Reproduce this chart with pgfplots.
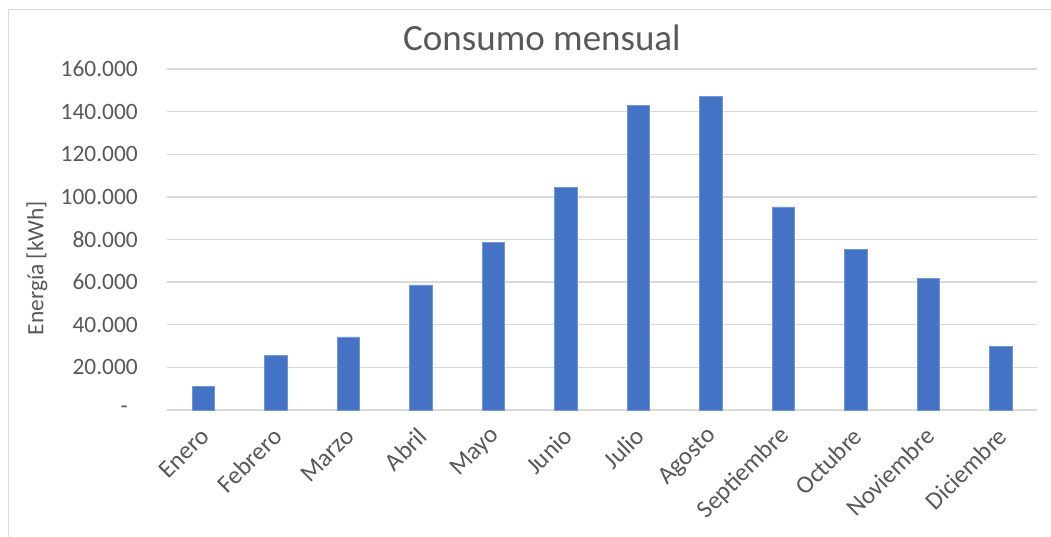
\documentclass[border=0pt]{standalone}
\usepackage{fontspec}
\setmainfont{Carlito}
\usepackage{pgfplots}
\usepackage{pgfplotstable}
\pgfplotsset{compat=1.18}
\definecolor{barblue}{HTML}{4472C4}
\definecolor{txtgrey}{HTML}{595959}
\definecolor{gridgrey}{HTML}{D9D9D9}

% Monthly energy consumption in kWh
\pgfplotstableread{
idx value
0 11200
1 25500
2 34300
3 58700
4 78800
5 104600
6 142800
7 147300
8 95300
9 75400
10 61800
11 30000
}\consumo

\newcommand{\ticksize}{\fontsize{23.4}{28}\selectfont}

\begin{document}
\begin{tikzpicture}[x=1pt,y=1pt]
\useasboundingbox (0,0) rectangle (1051,536);
\fill[white] (0,0) rectangle (1051,536);
% chart frame
\draw[gridgrey, line width=1.5pt] (8.5,-5) -- (8.5,526.5) -- (1060,526.5);
% title and axis title
\node[font=\fontsize{37}{44}\selectfont, text=txtgrey, anchor=base] at (542,485) {Consumo mensual};
\node[font=\ticksize, text=txtgrey, rotate=90, anchor=center] at (37,268) {Energía [kWh]};
\begin{axis}[
  at={(167pt,126pt)}, anchor=south west,
  width=870pt, height=341pt, scale only axis,
  xmin=-0.5, xmax=11.5, ymin=0, ymax=160000,
  ybar, bar width=22.3pt,
  xtick={0,...,11},
  xticklabels={Enero,Febrero,Marzo,Abril,Mayo,Junio,Julio,Agosto,Septiembre,Octubre,Noviembre,Diciembre},
  ytick={0,20000,...,160000},
  yticklabels={{-\hspace*{10pt}},20.000,40.000,60.000,80.000,100.000,120.000,140.000,160.000},
  scaled y ticks=false,
  ymajorgrids,
  grid style={gridgrey, line width=1.3pt},
  axis line style={draw=none},
  major tick length=0pt,
  tick style={draw=none},
  ticklabel style={font=\ticksize, text=txtgrey},
  yticklabel style={anchor=east, inner sep=0pt, xshift=-29pt},
  xticklabel style={font=\fontsize{25}{30}\selectfont, rotate=45, anchor=east, inner sep=0pt, xshift=-14.1pt, yshift=-17pt},
]
\addplot[fill=barblue, draw=barblue!75!white, line width=0.6pt] table[x=idx,y=value]{\consumo};
\end{axis}
\end{tikzpicture}
\end{document}
